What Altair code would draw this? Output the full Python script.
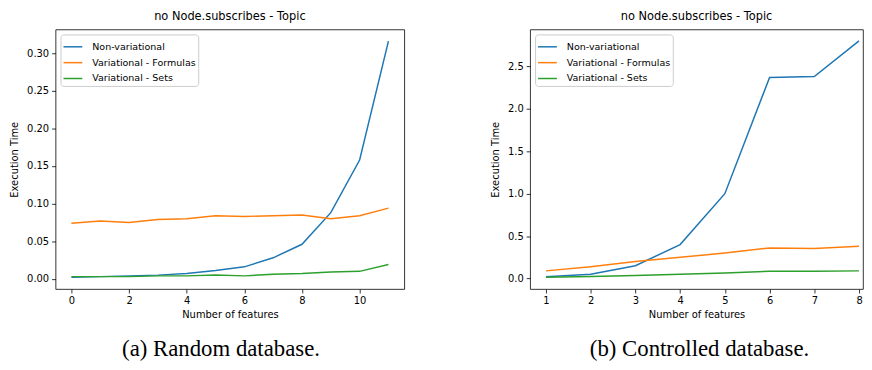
import altair as alt
import pandas as pd

series_names = ["Non-variational", "Variational - Formulas", "Variational - Sets"]
series_colors = ["#1f77b4", "#ff7f0e", "#2ca02c"]

# (a) Random database
x_random = list(range(12))
nonvar_random = [0.002, 0.003, 0.004, 0.005, 0.007, 0.011, 0.016, 0.028, 0.046, 0.088, 0.158, 0.316]
formulas_random = [0.074, 0.077, 0.075, 0.079, 0.080, 0.084, 0.083, 0.084, 0.085, 0.080, 0.084, 0.094]
sets_random = [0.003, 0.003, 0.003, 0.004, 0.004, 0.005, 0.004, 0.006, 0.007, 0.009, 0.010, 0.019]

# (b) Controlled database
x_controlled = [1, 2, 3, 4, 5, 6, 7, 8]
nonvar_controlled = [0.02, 0.05, 0.15, 0.40, 1.00, 2.37, 2.38, 2.80]
formulas_controlled = [0.09, 0.14, 0.20, 0.25, 0.30, 0.36, 0.355, 0.38]
sets_controlled = [0.015, 0.025, 0.035, 0.05, 0.065, 0.085, 0.085, 0.09]

y_ticks_random = [0.0, 0.05, 0.10, 0.15, 0.20, 0.25, 0.30]
x_ticks_random = [0, 2, 4, 6, 8, 10]
y_ticks_controlled = [0.0, 0.5, 1.0, 1.5, 2.0, 2.5]
x_ticks_controlled = [1, 2, 3, 4, 5, 6, 7, 8]

panel_title = "no Node.subscribes - Topic"
x_title = "Number of features"
y_title = "Execution Time"
captions = ["(a) Random database.", "(b) Controlled database."]


def long_df(xs, ys_list):
    rows = []
    for name, ys in zip(series_names, ys_list):
        for x, y in zip(xs, ys):
            rows.append({"x": x, "y": y, "series": name})
    return pd.DataFrame(rows)


def panel(df, xdom, ydom, xticks, yticks, yfmt, w, h, caption, cap_dx):
    base = alt.Chart(df).mark_line(strokeWidth=1.5, clip=True).encode(
        x=alt.X("x:Q", scale=alt.Scale(domain=xdom, nice=False, zero=False),
                axis=alt.Axis(values=xticks, format="d", title=x_title)),
        y=alt.Y("y:Q", scale=alt.Scale(domain=ydom, nice=False, zero=False),
                axis=alt.Axis(values=yticks, format=yfmt, title=y_title)),
        color=alt.Color("series:N",
                        scale=alt.Scale(domain=series_names, range=series_colors),
                        legend=alt.Legend(title=None, orient="top-left")),
    )
    cap = alt.Chart(pd.DataFrame({"caption": [caption]})).mark_text(
        font="Liberation Serif", fontSize=23, color="black", baseline="alphabetic", align="center"
    ).encode(
        x=alt.value(w / 2 + cap_dx),
        y=alt.value(h + 68),
        text="caption:N",
    )
    return alt.layer(base, cap).properties(width=w, height=h, title=panel_title)


left = panel(long_df(x_random, [nonvar_random, formulas_random, sets_random]),
             [-0.55, 11.55], [-0.0135, 0.3315], x_ticks_random, y_ticks_random, ".2f",
             352, 262, captions[0], -9)
right = panel(long_df(x_controlled, [nonvar_controlled, formulas_controlled, sets_controlled]),
              [0.646, 8.089], [-0.124, 2.935], x_ticks_controlled, y_ticks_controlled, ".1f",
              336, 262, captions[1], 3)

chart = alt.hconcat(left, right, spacing=85).resolve_legend(color="independent").properties(
    padding={"left": 1, "top": 0, "right": 0, "bottom": 0}
).configure_view(
    stroke="black", strokeWidth=0.8
).configure_axis(
    grid=False, domain=False, tickColor="black", tickSize=4, tickWidth=0.8,
    labelColor="black", labelFont="DejaVu Sans", labelFontSize=10, labelPadding=3,
    titleFont="DejaVu Sans", titleFontSize=10, titleFontWeight="normal", titleColor="black",
).configure_axisX(titlePadding=4).configure_axisY(titlePadding=7).configure_title(
    font="DejaVu Sans", fontSize=11.5, fontWeight="normal", color="black", offset=7.5, anchor="middle"
).configure_legend(
    labelFont="DejaVu Sans", labelFontSize=9.6, labelColor="black",
    symbolType="stroke", symbolSize=361, symbolStrokeWidth=1.5,
    strokeColor="#cccccc", fillColor="white", cornerRadius=3, padding=2, offset=5,
    rowPadding=-4, labelOffset=9,
)

chart.save("out.html", embed_options={"renderer": "svg", "actions": False})
